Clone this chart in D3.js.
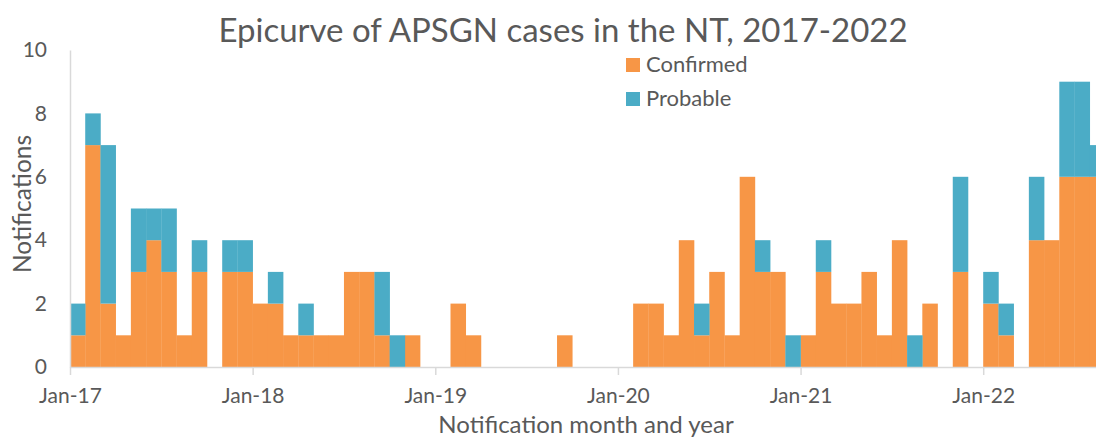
<!DOCTYPE html>
<html>
<head>
<meta charset="utf-8">
<script src="https://cdn.jsdelivr.net/npm/d3@7"></script>
<style>
  body { margin: 0; background: #fff; }
  text { font-family: Lato, "Open Sans", sans-serif; fill: #595959; }
</style>
</head>
<body>
<div id="vis"></div>
<script>
// monthly notifications, Jan-17 .. Aug-22
const months = [
  "Jan-17","Feb-17","Mar-17","Apr-17","May-17","Jun-17","Jul-17","Aug-17","Sep-17","Oct-17","Nov-17","Dec-17",
  "Jan-18","Feb-18","Mar-18","Apr-18","May-18","Jun-18","Jul-18","Aug-18","Sep-18","Oct-18","Nov-18","Dec-18",
  "Jan-19","Feb-19","Mar-19","Apr-19","May-19","Jun-19","Jul-19","Aug-19","Sep-19","Oct-19","Nov-19","Dec-19",
  "Jan-20","Feb-20","Mar-20","Apr-20","May-20","Jun-20","Jul-20","Aug-20","Sep-20","Oct-20","Nov-20","Dec-20",
  "Jan-21","Feb-21","Mar-21","Apr-21","May-21","Jun-21","Jul-21","Aug-21","Sep-21","Oct-21","Nov-21","Dec-21",
  "Jan-22","Feb-22","Mar-22","Apr-22","May-22","Jun-22","Jul-22","Aug-22"
];
const confirmed = [
  1,7,2,1,3,4,3,1,3,0,3,3,
  2,2,1,1,1,1,3,3,1,0,1,0,
  0,2,1,0,0,0,0,0,1,0,0,0,
  0,2,2,1,4,1,3,1,6,3,3,0,
  1,3,2,2,3,1,4,0,2,0,3,0,
  2,1,0,4,4,6,6,6
];
const probable = [
  1,1,5,0,2,1,2,0,1,0,1,1,
  0,1,0,1,0,0,0,0,2,1,0,0,
  0,0,0,0,0,0,0,0,0,0,0,0,
  0,0,0,0,0,1,0,0,0,1,0,1,
  0,1,0,0,0,0,0,1,0,0,3,0,
  1,1,0,2,0,3,3,1
];
const tickLabels = ["Jan-17","Jan-18","Jan-19","Jan-20","Jan-21","Jan-22"];
const yTicks = [0, 2, 4, 6, 8, 10];
const seriesNames = ["Confirmed", "Probable"];
const colors = ["#F79646", "#4BACC6"];

const width = 1096, height = 437;
const plotLeft = 70, plotBottom = 367, plotTop = 50;
const monthW = 15.22;

const svg = d3.select('#vis').append('svg')
  .attr('width', width)
  .attr('height', height);

const x = d3.scaleLinear().domain([0, months.length]).range([plotLeft, plotLeft + months.length * monthW]);
const y = d3.scaleLinear().domain([0, 10]).range([plotBottom, plotTop]);

// stacked bars, no gap between months
const rows = months.map((m, i) => ({ i: i, Confirmed: confirmed[i], Probable: probable[i] }));
const stack = d3.stack().keys(seriesNames)(rows);

svg.append('g').selectAll('g')
  .data(stack)
  .join('g')
  .attr('fill', (d, k) => colors[k])
  .selectAll('rect')
  .data(d => d.filter(s => s[1] > s[0]))
  .join('rect')
  .attr('x', d => x(d.data.i))
  .attr('width', d => x(d.data.i + 1) - x(d.data.i) + 0.3)
  .attr('y', d => y(d[1]))
  .attr('height', d => y(d[0]) - y(d[1]));

// x axis
const xAxis = svg.append('g')
  .attr('transform', `translate(0,${plotBottom})`)
  .call(d3.axisBottom(x)
    .tickValues(tickLabels.map((t, k) => k * 12))
    .tickFormat((d, k) => tickLabels[k])
    .tickSizeInner(8).tickSizeOuter(0).tickPadding(13));
xAxis.select('.domain').attr('stroke', '#d9d9d9').attr('stroke-width', 1.5);
xAxis.selectAll('.tick line').attr('stroke', '#d9d9d9').attr('stroke-width', 1.5);
xAxis.selectAll('.tick text').attr('font-size', 21).attr('fill', '#595959').style('font-family', 'Lato');

// y axis
const yAxis = svg.append('g')
  .attr('transform', `translate(${plotLeft},0)`)
  .call(d3.axisLeft(y).tickValues(yTicks).tickSize(0).tickPadding(23));
yAxis.select('.domain').attr('stroke', '#d9d9d9').attr('stroke-width', 1.5);
yAxis.selectAll('.tick text').attr('font-size', 21).attr('fill', '#595959').style('font-family', 'Lato');

// title and axis titles
svg.append('text')
  .attr('x', 563).attr('y', 42)
  .attr('text-anchor', 'middle')
  .attr('font-size', 33)
  .text('Epicurve of APSGN cases in the NT, 2017-2022');

svg.append('text')
  .attr('x', 586).attr('y', 433)
  .attr('text-anchor', 'middle')
  .attr('font-size', 24)
  .text('Notification month and year');

svg.append('text')
  .attr('transform', 'translate(31,204) rotate(-90)')
  .attr('text-anchor', 'middle')
  .attr('font-size', 24.5)
  .text('Notifications');

// legend
const legend = svg.append('g').attr('transform', 'translate(626,58)');
const items = legend.selectAll('g')
  .data(seriesNames)
  .join('g')
  .attr('transform', (d, k) => `translate(0,${k * 34})`);
items.append('rect')
  .attr('width', 14).attr('height', 14)
  .attr('fill', (d, k) => colors[k]);
items.append('text')
  .attr('x', 20).attr('y', 14)
  .attr('font-size', 22)
  .text(d => d);
</script>
</body>
</html>
